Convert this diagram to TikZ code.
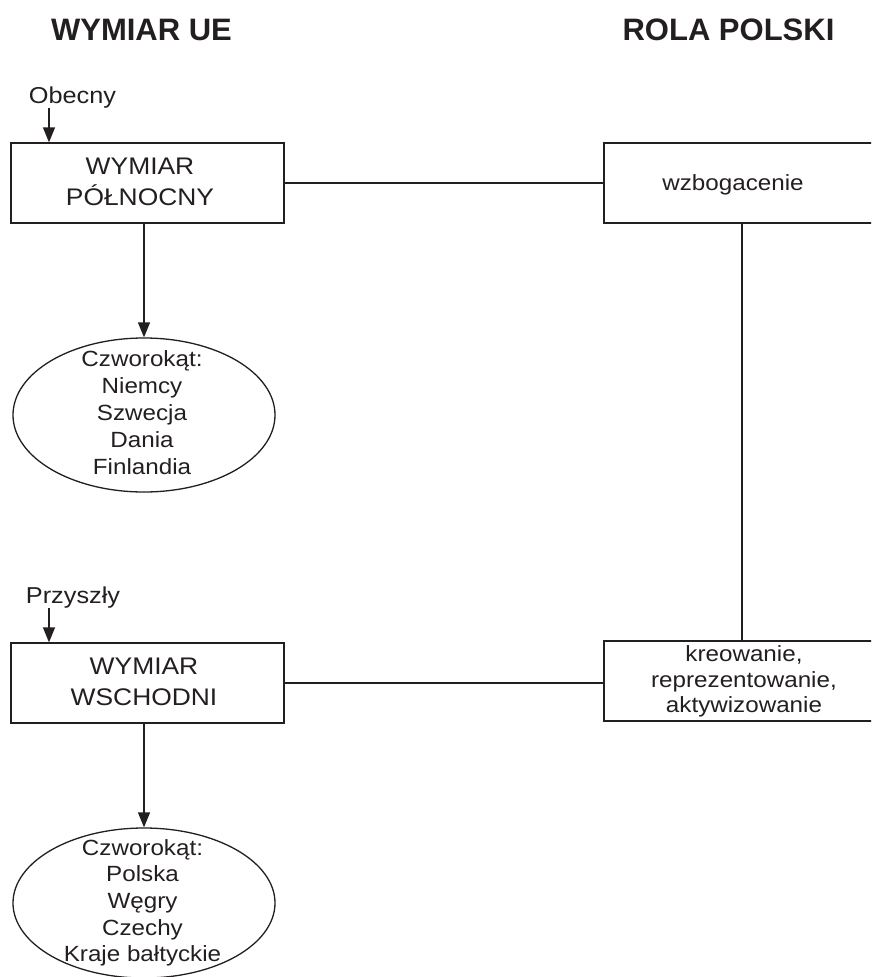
\documentclass[tikz,border=0pt]{standalone}
\usepackage{fontspec}
\setmainfont{Liberation Sans}
\newfontfamily\bodyf[FakeStretch=1.1]{Liberation Sans}
\usetikzlibrary{arrows.meta,shapes.geometric}
\definecolor{ink}{RGB}{35,31,32}
\begin{document}
\begin{tikzpicture}[x=1pt,y=-1pt,line width=1.3pt,
  boxl/.style={draw=ink,rectangle,minimum width=273pt,minimum height=80pt,inner sep=0pt},
  boxr/.style={draw=ink,rectangle,minimum width=276pt,minimum height=80pt,inner sep=0pt},
  oval/.style={draw=ink,ellipse,minimum width=262pt,inner sep=0pt},
  arr/.style={draw=ink,-{Triangle[length=15pt,width=12pt]}},
  hdr/.style={font=\fontsize{31}{31}\selectfont\bfseries,text=ink,anchor=base,inner sep=0pt},
  lbl/.style={font=\bodyf\fontsize{23}{23}\selectfont,text=ink,anchor=base,inner sep=0pt},
  btxt/.style={font=\bodyf\fontsize{24}{31}\selectfont,text=ink,align=center,inner sep=0pt},
  stxt/.style={font=\bodyf\fontsize{22}{27}\selectfont,text=ink,align=center,inner sep=0pt}]
\useasboundingbox (0,0) rectangle (871,977);
\clip (0,0) rectangle (871,977);
% headers
\node[hdr] (h1) at (141.5,40) {WYMIAR UE};
\node[hdr] (h2) at (728.5,40) {ROLA POLSKI};
% labels
\node[lbl] (ob) at (72.5,103) {Obecny};
\node[lbl] (pr) at (73,603) {Przyszły};
% boxes
\node[boxl] (b1) at (147.5,183) {};
\node[boxl] (b3) at (147.5,683) {};
\node[boxr] (b2) at (742,183) {};
\node[boxr] (b4) at (742,681) {};
\node[btxt] (t1) at (140,181.9) {WYMIAR\\PÓŁNOCNY};
\node[btxt] (t3) at (144,681.9) {WYMIAR\\WSCHODNI};
\node[font=\bodyf\fontsize{22}{22}\selectfont,text=ink,anchor=base,inner sep=0pt] (t2) at (733,190) {wzbogacenie};
\node[font=\bodyf\fontsize{22}{25.5}\selectfont,text=ink,align=center,inner sep=0pt] (t4) at (744,681.8) {kreowanie,\\reprezentowanie,\\aktywizowanie};
% ellipses
\node[oval,minimum height=154pt] (e1) at (144,415) {};
\node[oval,minimum height=150pt] (e2) at (144,903) {};
\node[stxt] (te1) at (142,413) {Czworokąt:\\Niemcy\\Szwecja\\Dania\\Finlandia};
\node[font=\bodyf\fontsize{22}{26.75}\selectfont,text=ink,align=center,inner sep=0pt] (te2) at (142.5,902.8) {Czworokąt:\\Polska\\Węgry\\Czechy\\Kraje bałtyckie};
% connectors
\coordinate (o1) at (49,108);
\coordinate (o2) at (49,608);
\draw[arr] (o1) -- (o1 |- b1.north);
\draw[arr] (o2) -- (o2 |- b3.north);
\draw[arr] (b1.south -| e1.north) -- (e1.north);
\draw[arr] (b3.south -| e2.north) -- (e2.north);
\draw[ink] (b1.east) -- (b2.west);
\draw[ink] (b3.east) -- (b3.east -| b4.west);
\draw[ink] (b2.south) -- (b4.north);
\end{tikzpicture}
\end{document}
